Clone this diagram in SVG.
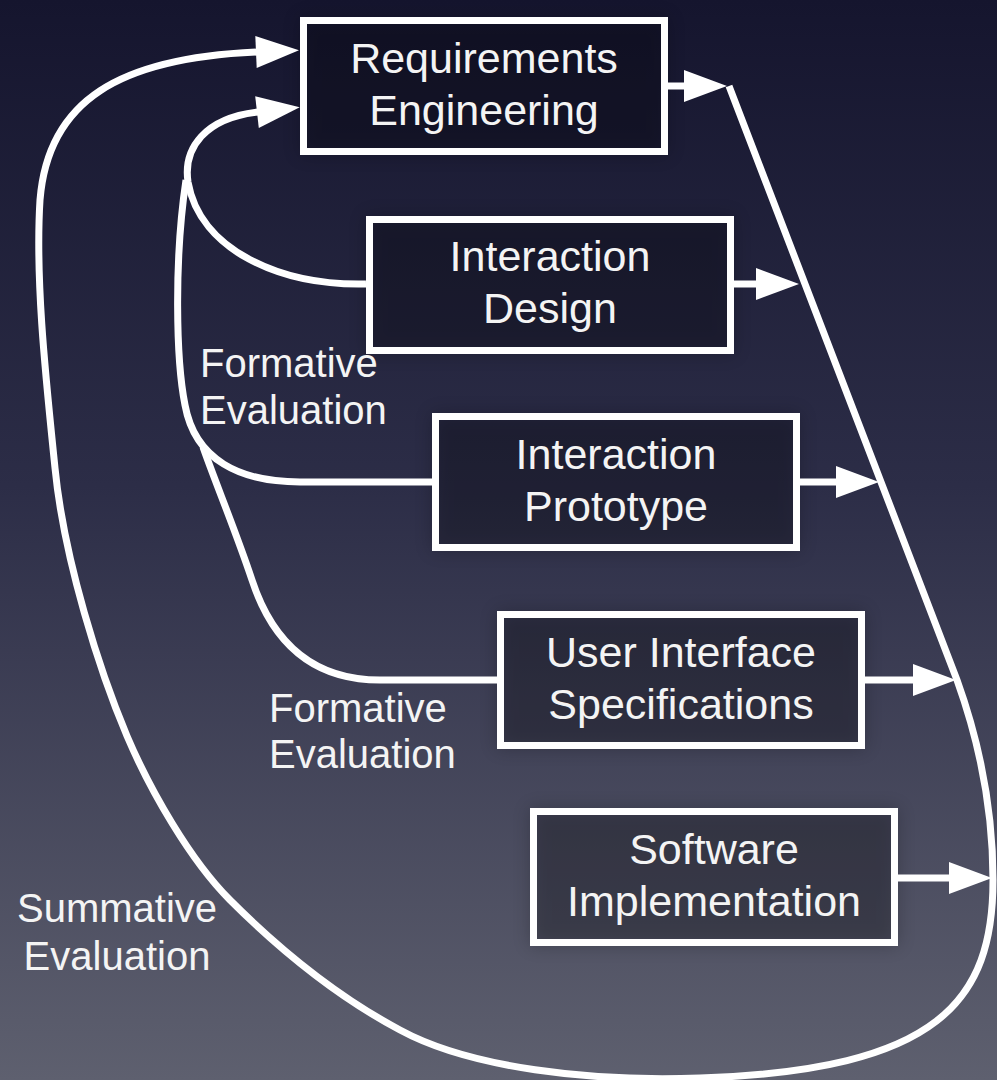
<svg xmlns="http://www.w3.org/2000/svg" width="997" height="1080" viewBox="0 0 997 1080">
  <defs>
    <linearGradient id="bg" x1="0" y1="0" x2="0" y2="1">
      <stop offset="0" stop-color="#15152e"/>
      <stop offset="0.45" stop-color="#2c2d47"/>
      <stop offset="1" stop-color="#5e606f"/>
    </linearGradient>
    <filter id="soft" x="-20%" y="-40%" width="140%" height="180%">
      <feGaussianBlur stdDeviation="9"/>
    </filter>
    <marker id="head" markerUnits="userSpaceOnUse" markerWidth="44" markerHeight="34" refX="1" refY="16" orient="auto" overflow="visible">
      <path d="M0,0 L43,16 L0,32 Z" fill="#fff"/>
    </marker>
    <style>
      .shade { fill: #000; opacity: 0.22; filter: url(#soft); }
      .box { fill: rgba(6, 6, 18, 0.1); stroke: #fff; stroke-width: 7; }
      .wire { fill: none; stroke: #fff; stroke-width: 7; stroke-linejoin: round; }
      .arrow { marker-end: url(#head); }
      text { font-family: "Liberation Sans", Arial, Helvetica, sans-serif; fill: #f4f4f4; }
      .t { font-size: 43px; text-anchor: middle; }
      .lbl { font-size: 40px; }
      .mid { text-anchor: middle; }
    </style>
  </defs>

  <rect width="997" height="1080" fill="url(#bg)"/>

  <!-- process steps -->
  <g id="requirements-engineering">
    <rect class="shade" x="300" y="17" width="368" height="138"/>
    <rect class="box" x="303.5" y="20.5" width="361" height="131"/>
    <text class="t" x="484" y="73">Requirements</text>
    <text class="t" x="484" y="125">Engineering</text>
  </g>
  <g id="interaction-design">
    <rect class="shade" x="366" y="216" width="368" height="138"/>
    <rect class="box" x="369.5" y="219.5" width="361" height="131"/>
    <text class="t" x="550" y="271">Interaction</text>
    <text class="t" x="550" y="323">Design</text>
  </g>
  <g id="interaction-prototype">
    <rect class="shade" x="432" y="413" width="368" height="138"/>
    <rect class="box" x="435.5" y="416.5" width="361" height="131"/>
    <text class="t" x="616" y="469">Interaction</text>
    <text class="t" x="616" y="521">Prototype</text>
  </g>
  <g id="ui-specifications">
    <rect class="shade" x="497" y="611" width="368" height="138"/>
    <rect class="box" x="500.5" y="614.5" width="361" height="131"/>
    <text class="t" x="681" y="667">User Interface</text>
    <text class="t" x="681" y="719">Specifications</text>
  </g>
  <g id="software-implementation">
    <rect class="shade" x="530" y="808" width="368" height="138"/>
    <rect class="box" x="533.5" y="811.5" width="361" height="131"/>
    <text class="t" x="714" y="864">Software</text>
    <text class="t" x="714" y="916">Implementation</text>
  </g>

  <!-- connectors -->
  <g id="connectors">
    <!-- outputs into the delivery line -->
    <path class="wire arrow" d="M668 86 H685"/>
    <path class="wire arrow" d="M734 284 H757"/>
    <path class="wire arrow" d="M800 482 H837"/>
    <path class="wire arrow" d="M865 680 H914"/>
    <path class="wire arrow" d="M898 878 H950"/>

    <!-- delivery line and summative loop back to requirements -->
    <path class="wire arrow" d="M729 86 L957 680 C975 730 993 800 993 880 C993 1000 940 1070 700 1078 C590 1082 470 1068 400 1030 C340 998 280 950 230 900 C190 860 150 790 127 736 C100 672 64 560 55 468 C46 380 35 280 40 200 C48 100 120 58 257 52"/>

    <!-- formative loops -->
    <path class="wire arrow" d="M366 284 C280 286 200 250 188 182 C183 148 205 118 258 112"/>
    <path class="wire" d="M432 482 H300 C240 482 195 460 185 405 C176 360 174 260 186 180"/>
    <path class="wire" d="M497 680 H380 C320 680 275 650 252 580 C236 532 216 484 203 447"/>
  </g>

  <!-- loop labels -->
  <g id="labels">
    <text class="lbl" x="200" y="377">Formative</text>
    <text class="lbl" x="200" y="424">Evaluation</text>
    <text class="lbl" x="269" y="722">Formative</text>
    <text class="lbl" x="269" y="768">Evaluation</text>
    <text class="lbl mid" x="117" y="922">Summative</text>
    <text class="lbl mid" x="117" y="970">Evaluation</text>
  </g>
</svg>
